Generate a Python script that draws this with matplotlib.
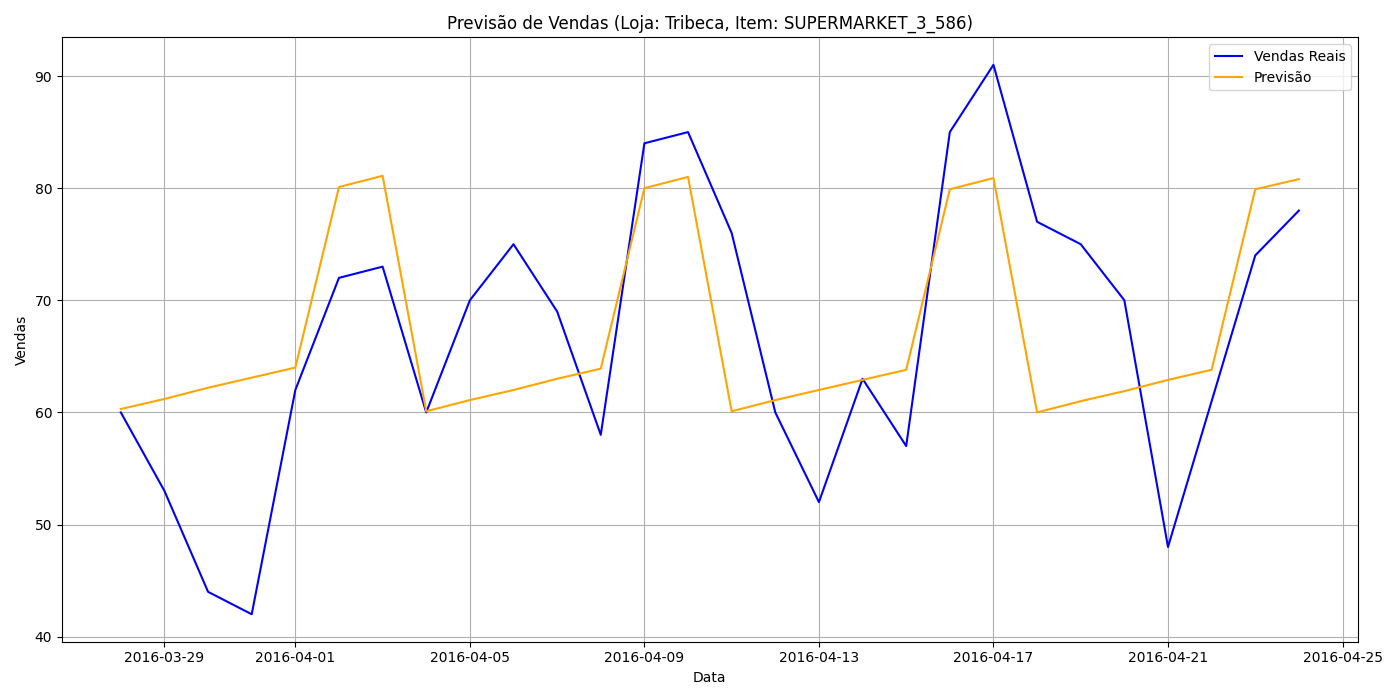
import pandas as pd
import matplotlib
matplotlib.use("Agg")
import matplotlib.pyplot as plt

dates = pd.date_range("2016-03-28", "2016-04-24", freq="D")

vendas_reais = [60, 53, 44, 42, 62, 72, 73, 60, 70, 75, 69, 58, 84, 85,
                76, 60, 52, 63, 57, 85, 91, 77, 75, 70, 48, 61, 74, 78]

previsao = [60.3, 61.2, 62.2, 63.1, 64.0, 80.1, 81.1, 60.1, 61.1, 62.0,
            63.0, 63.9, 80.0, 81.0, 60.1, 61.1, 62.0, 62.9, 63.8, 79.9,
            80.9, 60.0, 61.0, 61.9, 62.9, 63.8, 79.9, 80.8]

plt.figure(figsize=(14, 7))
plt.plot(dates, vendas_reais, color="blue", label="Vendas Reais")
plt.plot(dates, previsao, color="orange", label="Previsão")
plt.title("Previsão de Vendas (Loja: Tribeca, Item: SUPERMARKET_3_586)")
plt.xlabel("Data")
plt.ylabel("Vendas")
plt.legend()
plt.grid(True)
plt.tight_layout()
plt.savefig("out.png", dpi=100)
